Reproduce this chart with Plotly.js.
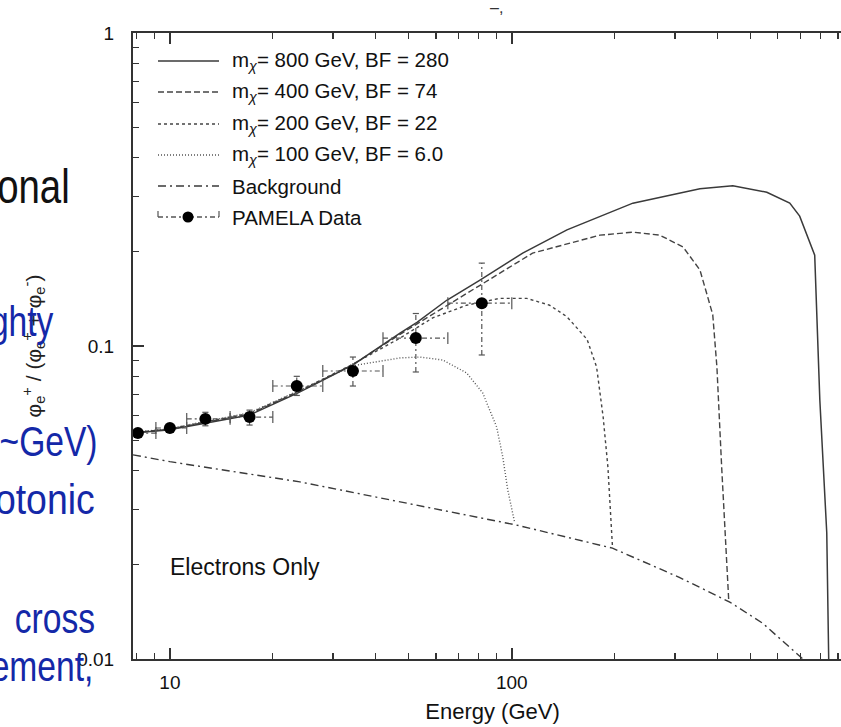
<!DOCTYPE html>
<html>
<head>
<meta charset="utf-8">
<script src="https://cdn.plot.ly/plotly-3.0.1.min.js"></script>
<style>
html,body{margin:0;padding:0;overflow:hidden;background:#fff;}
#plot{width:860px;height:727px;}
</style>
</head>
<body>
<div id="plot"></div>
<script>
// ---------- PAMELA data ----------
const pamelaEnergy   = [8.06, 10.0, 12.7, 17.1, 23.5, 34.3, 52.4, 81.7];
const pamelaFraction = [0.0527, 0.0547, 0.0585, 0.0593, 0.0745, 0.0832, 0.106, 0.137];
const pamelaBinLow   = [7.4, 9.1, 11.2, 15.0, 20.0, 28.0, 42.0, 65.0];
const pamelaBinHigh  = [9.1, 11.2, 15.0, 20.0, 28.0, 42.0, 65.0, 100.0];
const pamelaErrLow   = [0.0514, 0.0532, 0.0556, 0.0559, 0.0695, 0.0745, 0.0826, 0.0936];
const pamelaErrHigh  = [0.0540, 0.0562, 0.0614, 0.0624, 0.0800, 0.0922, 0.127, 0.184];

// ---------- model curves ----------
const m800Energy   = [7.8, 9.87, 12.8, 17.1, 23.7, 34.3, 47.1, 52.8, 64.5, 80.5, 107.6, 145, 226, 355, 443, 557, 650, 695, 769, 796, 834, 845];
const m800Fraction = [0.0527, 0.0539, 0.0568, 0.0602, 0.0708, 0.0870, 0.110, 0.119, 0.140, 0.162, 0.198, 0.235, 0.286, 0.318, 0.325, 0.310, 0.286, 0.260, 0.195, 0.0672, 0.0253, 0.0100];

const m400Energy   = [7.8, 9.87, 12.8, 17.1, 23.7, 34.3, 47.1, 65.9, 80.5, 115, 181, 226, 271, 317, 355, 387, 398, 411, 425, 431];
const m400Fraction = [0.0528, 0.0541, 0.0571, 0.0606, 0.0712, 0.0872, 0.109, 0.137, 0.156, 0.198, 0.226, 0.231, 0.226, 0.207, 0.175, 0.126, 0.0857, 0.041, 0.0197, 0.0154];

const m200Energy   = [7.8, 9.87, 12.8, 17.1, 23.7, 34.3, 47.1, 58.7, 73.8, 92.2, 110.6, 129, 145, 166, 177, 185, 191, 197];
const m200Fraction = [0.0529, 0.0542, 0.0573, 0.0609, 0.0716, 0.0875, 0.106, 0.123, 0.135, 0.142, 0.142, 0.135, 0.124, 0.105, 0.0857, 0.0593, 0.0411, 0.0228];

const m100Energy   = [7.8, 9.87, 12.8, 17.1, 23.7, 34.3, 47.1, 53.8, 62.8, 73.8, 82.2, 90.3, 94.1, 97.3, 102];
const m100Fraction = [0.0530, 0.0543, 0.0575, 0.0612, 0.0718, 0.0865, 0.0916, 0.0922, 0.0902, 0.082, 0.0708, 0.0551, 0.0442, 0.0347, 0.0272];

const bgEnergy   = [7.8, 10, 24, 47.1, 103, 197, 310, 434, 542, 710];
const bgFraction = [0.0449, 0.0427, 0.0368, 0.0317, 0.0268, 0.0226, 0.0182, 0.0152, 0.0130, 0.0100];

// ---------- labels ----------
const legendLabels = [
  'm<sub><i>χ</i></sub>= 800 GeV, BF = 280',
  'm<sub><i>χ</i></sub>= 400 GeV, BF = 74',
  'm<sub><i>χ</i></sub>= 200 GeV, BF = 22',
  'm<sub><i>χ</i></sub>= 100 GeV, BF = 6.0',
  'Background',
  'PAMELA Data'
];
const xTitleText = 'Energy (GeV)';
const yTitleText = 'φ<sub>e</sub><sup>+</sup> / (φ<sub>e</sub><sup>+</sup> + φ<sub>e</sub><sup>-</sup>)';
const insideText = 'Electrons Only';
const slideTexts = ['onal', 'ghty', '~GeV)', 'otonic', ' cross', 'ement,'];

// ---------- styles ----------
const FONT = 'Liberation Sans, Arial, Helvetica, sans-serif';
const BLUE = '#1428a8';
const CURVE = '#3a3a3a';
const dashes = {
  m800: 'solid',
  m400: '6px,3px',
  m200: '3px,3px',
  m100: '1px,2px',
  bg: '8px,4px,2px,4px',
  err: '5px,3px,2px,3px'
};

// ---------- error bar geometry (built from the data) ----------
const capY = Math.pow(10, 0.019);
const capX = Math.pow(10, 0.009);
const hx = [], hy = [], vx = [], vy = [], cx = [], cy = [];
pamelaEnergy.forEach((e, i) => {
  const f = pamelaFraction[i];
  hx.push(pamelaBinLow[i], pamelaBinHigh[i], null); hy.push(f, f, null);
  vx.push(e, e, null); vy.push(pamelaErrLow[i], pamelaErrHigh[i], null);
  cx.push(pamelaBinLow[i], pamelaBinLow[i], null, pamelaBinHigh[i], pamelaBinHigh[i], null);
  cy.push(f / capY, f * capY, null, f / capY, f * capY, null);
  cx.push(e / capX, e * capX, null, e / capX, e * capX, null);
  cy.push(pamelaErrLow[i], pamelaErrLow[i], null, pamelaErrHigh[i], pamelaErrHigh[i], null);
});

const traces = [
  {x: bgEnergy, y: bgFraction, mode: 'lines', line: {color: CURVE, width: 1.4, dash: dashes.bg}, name: legendLabels[4]},
  {x: m100Energy, y: m100Fraction, mode: 'lines', line: {color: '#555', width: 1.4, dash: dashes.m100}, name: legendLabels[3]},
  {x: m200Energy, y: m200Fraction, mode: 'lines', line: {color: '#444', width: 1.4, dash: dashes.m200}, name: legendLabels[2]},
  {x: m400Energy, y: m400Fraction, mode: 'lines', line: {color: '#444', width: 1.4, dash: dashes.m400}, name: legendLabels[1]},
  {x: m800Energy, y: m800Fraction, mode: 'lines', line: {color: CURVE, width: 1.5, dash: dashes.m800}, name: legendLabels[0]},
  {x: hx, y: hy, mode: 'lines', connectgaps: false, line: {color: '#555', width: 1.2, dash: dashes.err}, hoverinfo: 'skip'},
  {x: vx, y: vy, mode: 'lines', connectgaps: false, line: {color: '#555', width: 1.2, dash: dashes.err}, hoverinfo: 'skip'},
  {x: cx, y: cy, mode: 'lines', connectgaps: false, line: {color: '#555', width: 1.2}, hoverinfo: 'skip'},
  {x: pamelaEnergy, y: pamelaFraction, mode: 'markers', marker: {color: '#000', size: 12}, name: legendLabels[5]}
];

// ---------- pixel -> paper helpers ----------
const W = 860, H = 727, ML = 133, MR = 8, MT = 33, MB = 68;
const PW = W - ML - MR, PH = H - MT - MB;
const px = x => (x - ML) / PW;
const py = y => (MT + PH - y) / PH;

// ---------- manual legend ----------
const legRowsY = [61, 92, 124, 155, 186, 217];
const legDash = [dashes.m800, dashes.m400, dashes.m200, dashes.m100, dashes.bg, dashes.err];
const legColor = [CURVE, '#444', '#444', '#555', CURVE, '#555'];
const shapes = [];
const annotations = [];
legRowsY.forEach((ry, i) => {
  shapes.push({type: 'line', xref: 'paper', yref: 'paper', x0: px(158), x1: px(219), y0: py(ry), y1: py(ry),
               line: {color: legColor[i], width: 1.4, dash: legDash[i]}});
  annotations.push({xref: 'paper', yref: 'paper', x: px(230), y: py(ry), xanchor: 'left', yanchor: 'middle',
                    text: legendLabels[i], showarrow: false, font: {family: FONT, size: 20.5, color: '#111'}});
});
const pr = legRowsY[5];
shapes.push({type: 'line', xref: 'paper', yref: 'paper', x0: px(158), x1: px(158), y0: py(pr), y1: py(pr - 6), line: {color: '#555', width: 1.2}});
shapes.push({type: 'line', xref: 'paper', yref: 'paper', x0: px(219), x1: px(219), y0: py(pr), y1: py(pr - 6), line: {color: '#555', width: 1.2}});
shapes.push({type: 'circle', xref: 'paper', yref: 'paper', x0: px(182.5), x1: px(193.5), y0: py(pr + 5.5), y1: py(pr - 5.5),
             fillcolor: '#000', line: {color: '#000', width: 0}});

annotations.push({xref: 'paper', yref: 'paper', x: px(168), y: py(567), xanchor: 'left', yanchor: 'middle',
                  text: insideText, showarrow: false, font: {family: FONT, size: 23, color: '#111'}});
annotations.push({xref: 'paper', yref: 'paper', x: px(496), y: py(7), xanchor: 'center', yanchor: 'middle',
                  text: '‒,', showarrow: false, font: {family: FONT, size: 16, color: '#333'}});
// [right edge px, centre y px, font size, colour, horizontal squeeze]
const slidePos = [[72, 186, 48, '#111', 0.8], [55, 322, 42, BLUE, 0.8], [100, 441, 42, BLUE, 0.8],
                  [97, 499, 43, BLUE, 0.87], [97, 618, 42, BLUE, 0.8], [95, 666, 42, BLUE, 0.8]];
slideTexts.forEach((t, i) => {
  const p = slidePos[i];
  annotations.push({xref: 'paper', yref: 'paper', x: px(p[0]), y: py(p[1]), xanchor: 'right', yanchor: 'middle',
                    text: t, showarrow: false, font: {family: FONT, size: p[2], color: p[3]}});
});

const axisCommon = {
  type: 'log', showgrid: false, zeroline: false,
  showline: true, linecolor: '#333', linewidth: 2, mirror: 'ticks',
  ticks: 'inside', ticklen: 11, tickwidth: 1.5, tickcolor: '#333',
  dtick: 1,
  minor: {ticks: 'inside', ticklen: 6, tickwidth: 1.2, tickcolor: '#333', dtick: 'D1', showgrid: false},
  tickfont: {family: FONT, size: 19, color: '#111'}
};

const layout = {
  width: W, height: H,
  margin: {l: ML, r: MR, t: MT, b: MB, pad: 0},
  paper_bgcolor: '#fff', plot_bgcolor: '#fff',
  showlegend: false,
  xaxis: Object.assign({}, axisCommon, {
    range: [Math.log10(7.8), 2.995],
    ticklabelstandoff: 5,
    title: {text: xTitleText, font: {family: FONT, size: 22, color: '#111'}, standoff: 12}
  }),
  yaxis: Object.assign({}, axisCommon, {
    range: [-2, 0],
    ticklabelstandoff: 13,
    title: {text: yTitleText, font: {family: FONT, size: 21, color: '#222'}, standoff: 30}
  }),
  shapes: shapes,
  annotations: annotations
};

Plotly.newPlot('plot', traces, layout, {displayModeBar: false, staticPlot: true}).then(() => {
  // the slide text in the reference uses a condensed face: narrow the glyphs horizontally
  document.querySelectorAll('#plot text.annotation-text').forEach(el => {
    const t = el.textContent.trim();
    const idx = slideTexts.findIndex(s => s.trim() === t);
    if (idx >= 0) {
      el.style.transformBox = 'fill-box';
      el.style.transformOrigin = '100% 50%';
      el.style.transform = 'scaleX(' + slidePos[idx][4] + ')';
    }
  });
});
</script>
</body>
</html>
